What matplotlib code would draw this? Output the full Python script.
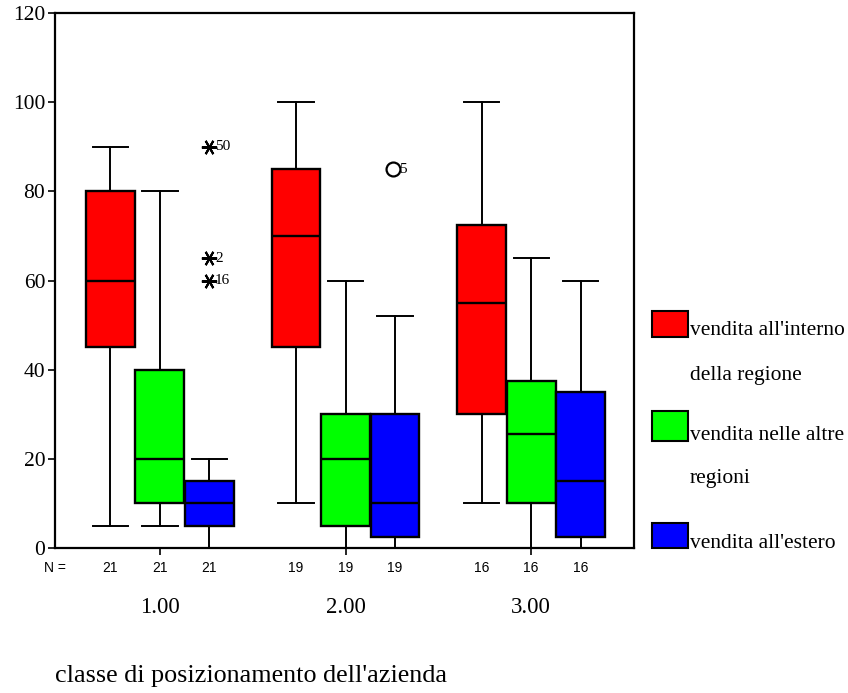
import matplotlib.pyplot as plt
from matplotlib.patches import Rectangle

plt.rcParams['font.family'] = ['Liberation Serif', 'DejaVu Serif']

# box statistics, one list per series, one value per group
groups = ["1.00", "2.00", "3.00"]
series = ["vendita all'interno della regione", "vendita nelle altre regioni", "vendita all'estero"]
colors = ["#ff0000", "#00ff00", "#0000ff"]

whislo = [[5, 10, 10], [5, 0, 0], [0, 0, 0]]
q1 = [[45, 45, 30], [10, 5, 10], [5, 2.5, 2.5]]
med = [[60, 70, 55], [20, 20, 25.5], [10, 10, 15]]
q3 = [[80, 85, 72.5], [40, 30, 37.5], [15, 30, 35]]
whishi = [[90, 100, 100], [80, 60, 65], [20, 52, 60]]
counts = [[21, 19, 16], [21, 19, 16], [21, 19, 16]]

# extremes (asterisk) and outliers (circle): group, series, value, case label
extreme_group = [1, 1, 1]
extreme_series = [2, 2, 2]
extreme_vals = [90, 65, 60]
extreme_ids = ["50", "2", "16"]
outlier_group = [2]
outlier_series = [2]
outlier_vals = [85]
outlier_ids = ["5"]

W, H = 848, 693
fig = plt.figure(figsize=(W / 100, H / 100), dpi=100)
ax = fig.add_axes([55 / W, 1 - 548 / H, (634 - 55) / W, (548 - 13) / H])

offs = [-0.267, 0.0, 0.267]
bw = 0.263

def xpos(g, s):
    return g + offs[s]

for s in range(3):
    stats = []
    pos = []
    for g in range(3):
        stats.append(dict(whislo=whislo[s][g], q1=q1[s][g], med=med[s][g],
                          q3=q3[s][g], whishi=whishi[s][g], fliers=[]))
        pos.append(xpos(g + 1, s))
    ax.bxp(stats, positions=pos, widths=bw, patch_artist=True, showfliers=False,
           capwidths=0.19,
           boxprops=dict(facecolor=colors[s], edgecolor='black', linewidth=1.7),
           medianprops=dict(color='black', linewidth=1.7),
           whiskerprops=dict(color='black', linewidth=1.4),
           capprops=dict(color='black', linewidth=1.4),
           manage_ticks=False)

for g, s, v, lab in zip(extreme_group, extreme_series, extreme_vals, extreme_ids):
    x = xpos(g, s)
    ax.plot(x, v, marker=(6, 2, 30), color='black', markersize=11, mew=1.5)
    ax.annotate(lab, (x, v), xytext=(4, 0), textcoords='offset points',
                va='center', ha='left', fontsize=11)

for g, s, v, lab in zip(outlier_group, outlier_series, outlier_vals, outlier_ids):
    x = xpos(g, s)
    ax.plot(x - 0.01, v, marker='o', mfc='white', mec='black', markersize=10, mew=1.6)
    ax.annotate(lab, (x, v), xytext=(3, 0), textcoords='offset points',
                va='center', ha='left', fontsize=11)

ax.set_xlim(0.435, 3.554)
ax.set_ylim(0, 120)
ax.set_yticks(range(0, 121, 20))
ax.tick_params(axis='y', labelsize=15.5, length=5, width=1.2, pad=2)
ax.set_xticks([1, 2, 3])
ax.set_xticklabels(groups)
ax.tick_params(axis='x', labelsize=16.5, length=5, width=1.2, pad=30)
for sp in ax.spines.values():
    sp.set_linewidth(1.6)

# N = row
ax.text(0.435, -0.037, "N =", transform=ax.get_xaxis_transform(), ha='center',
        va='center', fontsize=10, family='Liberation Sans')
for s in range(3):
    for g in range(3):
        ax.text(xpos(g + 1, s), -0.037, str(counts[s][g]),
                transform=ax.get_xaxis_transform(), ha='center', va='center',
                fontsize=10, family='Liberation Sans')

fig.text(55 / W, 1 - 676 / H, "classe di posizionamento dell'azienda",
         ha='left', va='center', fontsize=18.8)

# legend drawn by hand to keep the SPSS layout
leg_boxes = [(311, 337), (411, 441), (523, 548)]
leg_lines = [["vendita all'interno", "della regione"],
             ["vendita nelle altre", "regioni"],
             ["vendita all'estero"]]
leg_base = [[335, 380], [440, 483], [548]]
for i in range(3):
    top, bot = leg_boxes[i]
    fig.add_artist(Rectangle((652 / W, 1 - bot / H), 36 / W, (bot - top) / H,
                             transform=fig.transFigure, facecolor=colors[i],
                             edgecolor='black', linewidth=1.5))
    for txt, yb in zip(leg_lines[i], leg_base[i]):
        fig.text(690 / W, 1 - yb / H, txt, ha='left', va='baseline', fontsize=15.5)

fig.savefig("out.png", dpi=100)
